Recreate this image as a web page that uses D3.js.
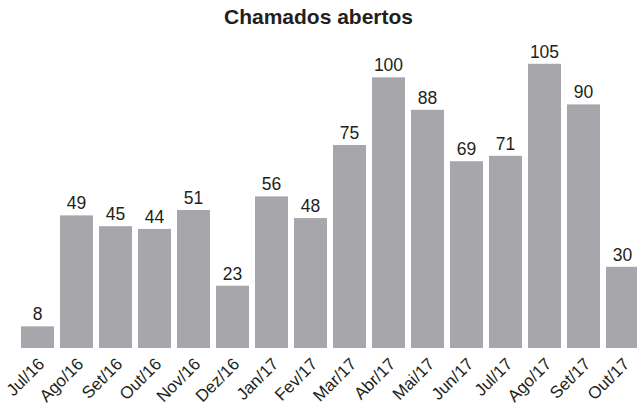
<!DOCTYPE html>
<html>
<head>
<meta charset="utf-8">
<script src="https://cdn.jsdelivr.net/npm/d3@7"></script>
<style>
  body { margin: 0; background: #fff; }
  text { font-family: "Liberation Sans", Arial, sans-serif; fill: #231f20; }
</style>
</head>
<body>
<svg width="637" height="412"></svg>
<script>
const months = ["Jul/16", "Ago/16", "Set/16", "Out/16", "Nov/16", "Dez/16", "Jan/17", "Fev/17",
  "Mar/17", "Abr/17", "Mai/17", "Jun/17", "Jul/17", "Ago/17", "Set/17", "Out/17"];
const chamados = [8, 49, 45, 44, 51, 23, 56, 48, 75, 100, 88, 69, 71, 105, 90, 30];

const svg = d3.select("svg");
const data = months.map((m, i) => ({ month: m, value: chamados[i] }));

const x = d3.scaleBand()
  .domain(months)
  .range([18, 642])
  .paddingInner(0.154)
  .paddingOuter(0.077);

const y = d3.scaleLinear().domain([0, 105]).range([348, 63.8]);

svg.append("text")
  .attr("x", 318.5)
  .attr("y", 24)
  .attr("text-anchor", "middle")
  .style("font-size", "21px")
  .style("font-weight", "bold")
  .text("Chamados abertos");

svg.selectAll("rect.bar")
  .data(data)
  .join("rect")
  .attr("class", "bar")
  .attr("x", (d) => x(d.month))
  .attr("width", x.bandwidth())
  .attr("y", (d) => y(d.value))
  .attr("height", (d) => y(0) - y(d.value))
  .style("fill", "#a7a7ab");

svg.selectAll("text.val")
  .data(data)
  .join("text")
  .attr("class", "val")
  .attr("x", (d) => x(d.month) + x.bandwidth() / 2)
  .attr("y", (d) => y(d.value) - 6)
  .attr("text-anchor", "middle")
  .style("font-size", "17.5px")
  .text((d) => d.value);

// rotated month labels
svg.selectAll("text.month")
  .data(data)
  .join("text")
  .attr("class", "month")
  .attr("text-anchor", "end")
  .attr("transform", (d) => `translate(${x(d.month) + x.bandwidth() / 2 + 8},${365}) rotate(-45)`)
  .style("font-size", "17px")
  .text((d) => d.month);
</script>
</body>
</html>
